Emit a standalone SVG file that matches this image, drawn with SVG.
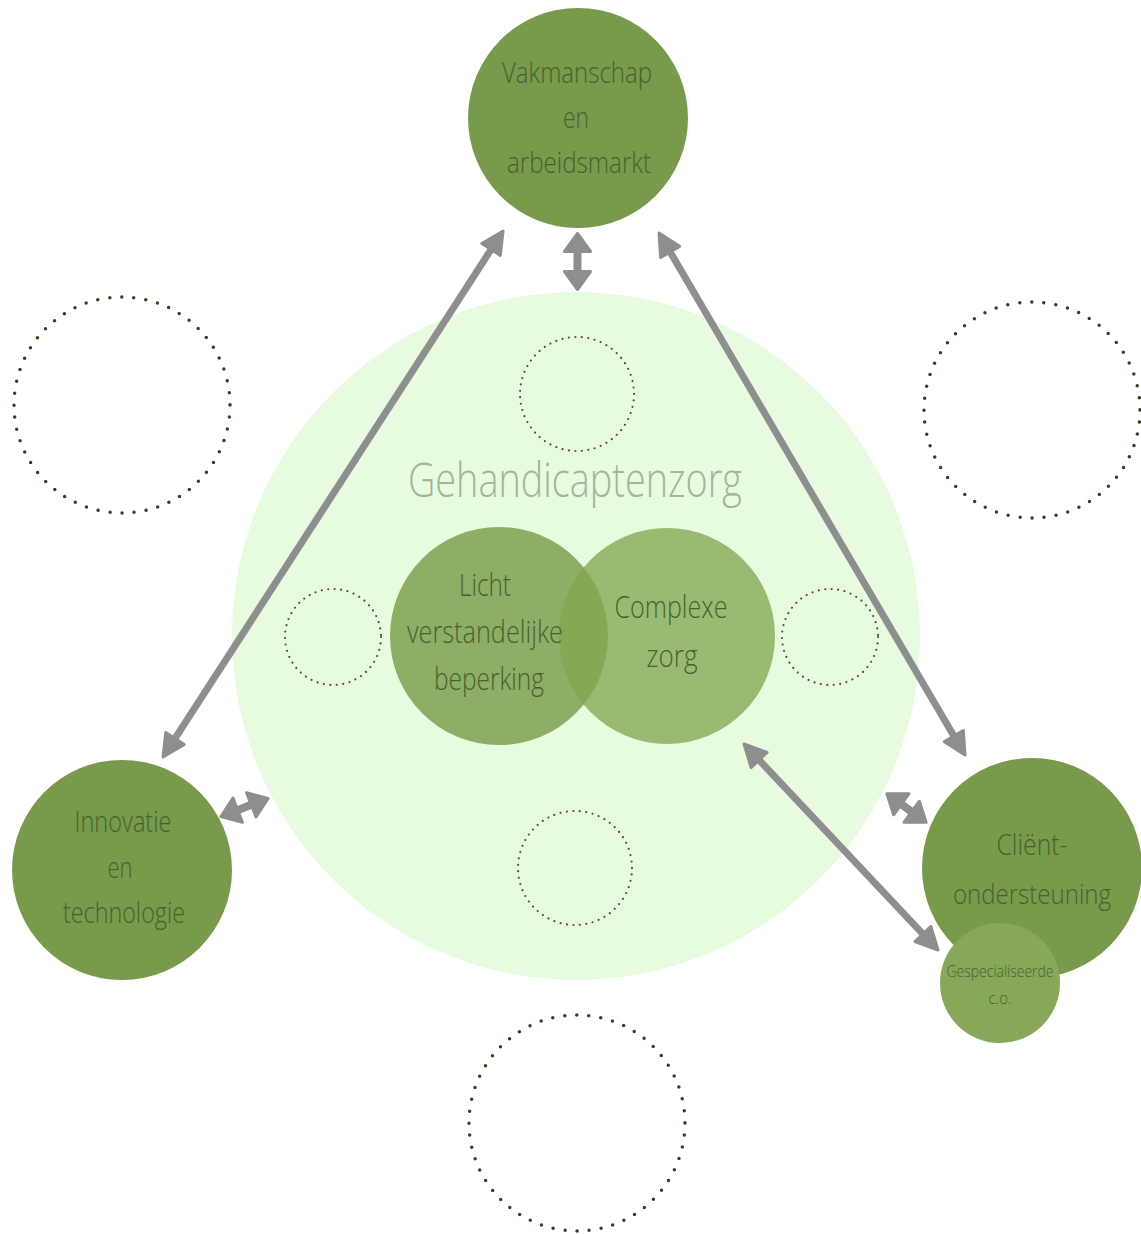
<svg xmlns="http://www.w3.org/2000/svg" width="1141" height="1234" viewBox="0 0 1141 1234">
<style>
.bg{fill:#ffffff}
.zone{fill:#e7fcdf}
.node{fill:#779a4b}
.sub{fill:#87a859}
.vennL{fill:#8dae65}
.vennR{fill:#81a64f;fill-opacity:0.77}
.dotL{fill:none;stroke:#3b3f22;stroke-width:3.5;stroke-dasharray:0 12.1;stroke-linecap:round}
.dotS{fill:none;stroke:#4d5238;stroke-width:2.2;stroke-dasharray:0 6.5;stroke-linecap:round}
.lbl{font-family:"Open Sans","Liberation Sans",sans-serif;font-weight:300;fill:#46622c;text-anchor:middle}
.title{font-family:"Open Sans","Liberation Sans",sans-serif;font-weight:300;fill:#a5b39a;text-anchor:middle}
.arr{fill:none;stroke:#8e8e8e;marker-start:url(#ah);marker-end:url(#ah)}
.arrs{fill:none;stroke:#8e8e8e;marker-start:url(#ahs);marker-end:url(#ahs)}
</style>
<defs>
<marker id="ah" viewBox="0 0 28 26" markerWidth="28" markerHeight="26" refX="10" refY="13" orient="auto-start-reverse" markerUnits="userSpaceOnUse">
<path d="M3,2 L25,13 L3,24 Z" fill="#8e8e8e" stroke="#8e8e8e" stroke-width="3" stroke-linejoin="round"/>
</marker>
<marker id="ahs" viewBox="0 0 24 30" markerWidth="24" markerHeight="30" refX="8" refY="15" orient="auto-start-reverse" markerUnits="userSpaceOnUse">
<path d="M3,2 L21,15 L3,28 Z" fill="#8e8e8e" stroke="#8e8e8e" stroke-width="3" stroke-linejoin="round"/>
</marker>
</defs>
<rect class="bg" x="0" y="0" width="1141" height="1234"/>

<g id="zone-gehandicaptenzorg">
<circle class="zone" cx="576" cy="636" r="344"/>
<text class="title" x="575" y="497" font-size="48" textLength="334" lengthAdjust="spacingAndGlyphs">Gehandicaptenzorg</text>
</g>

<g id="placeholders">
<circle class="dotL" cx="122" cy="405" r="108"/>
<circle class="dotL" cx="1032" cy="410" r="108"/>
<circle class="dotL" cx="577" cy="1123" r="108"/>
<circle class="dotS" cx="577" cy="394" r="57"/>
<circle class="dotS" cx="333" cy="637" r="48"/>
<circle class="dotS" cx="830" cy="637" r="48"/>
<circle class="dotS" cx="575" cy="868" r="57"/>
</g>

<g id="node-licht">
<circle class="vennL" cx="499" cy="636" r="109"/>
</g>
<g id="node-complexe">
<circle class="vennR" cx="667" cy="636" r="108"/>
</g>
<g id="labels-venn">
<text class="lbl" x="485" y="596" font-size="31" textLength="52" lengthAdjust="spacingAndGlyphs">Licht</text>
<text class="lbl" x="485" y="643" font-size="31" textLength="156" lengthAdjust="spacingAndGlyphs">verstandelijke</text>
<text class="lbl" x="489" y="690" font-size="31" textLength="110" lengthAdjust="spacingAndGlyphs">beperking</text>
<text class="lbl" x="671" y="618" font-size="31" textLength="113" lengthAdjust="spacingAndGlyphs">Complexe</text>
<text class="lbl" x="672" y="667" font-size="31" textLength="51" lengthAdjust="spacingAndGlyphs">zorg</text>
</g>

<g id="node-vakmanschap">
<circle class="node" cx="578" cy="118" r="110"/>
<text class="lbl" x="577" y="83" font-size="30" textLength="150" lengthAdjust="spacingAndGlyphs">Vakmanschap</text>
<text class="lbl" x="576" y="128" font-size="30" textLength="26" lengthAdjust="spacingAndGlyphs">en</text>
<text class="lbl" x="579" y="173" font-size="30" textLength="144" lengthAdjust="spacingAndGlyphs">arbeidsmarkt</text>
</g>

<g id="node-innovatie">
<circle class="node" cx="122" cy="870" r="110"/>
<text class="lbl" x="123" y="832" font-size="30" textLength="97" lengthAdjust="spacingAndGlyphs">Innovatie</text>
<text class="lbl" x="120" y="878" font-size="30" textLength="25" lengthAdjust="spacingAndGlyphs">en</text>
<text class="lbl" x="124" y="923" font-size="30" textLength="122" lengthAdjust="spacingAndGlyphs">technologie</text>
</g>

<g id="node-clientondersteuning">
<circle class="node" cx="1032" cy="868" r="110"/>
<text class="lbl" x="1032" y="855" font-size="30" textLength="71" lengthAdjust="spacingAndGlyphs">Cliënt-</text>
<text class="lbl" x="1032" y="904" font-size="28" textLength="158" lengthAdjust="spacingAndGlyphs">ondersteuning</text>
</g>

<g id="node-gespecialiseerde">
<circle class="sub" cx="1000" cy="983" r="60"/>
<text class="lbl" x="1000" y="977" font-size="16" textLength="107" lengthAdjust="spacingAndGlyphs">Gespecialiseerde</text>
<text class="lbl" x="1000" y="1004" font-size="16" textLength="23" lengthAdjust="spacingAndGlyphs">c.o.</text>
</g>

<g id="connectors">
<line class="arr" stroke-width="7" x1="171.2" y1="744.4" x2="494.9" y2="243.6"/>
<line class="arr" stroke-width="7" x1="666.6" y1="245.9" x2="957.4" y2="742.1"/>
<line class="arrs" stroke-width="8" x1="577.5" y1="246.5" x2="577.5" y2="276.5"/>
<line class="arrs" stroke-width="8" x1="233.05" y1="811.95" x2="255.95" y2="803.05"/>
<line class="arrs" stroke-width="8" x1="897.3" y1="801.3" x2="915.7" y2="814.7"/>
<line class="arr" stroke-width="7" x1="754.3" y1="754.9" x2="927.7" y2="939.1"/>
</g>
</svg>
